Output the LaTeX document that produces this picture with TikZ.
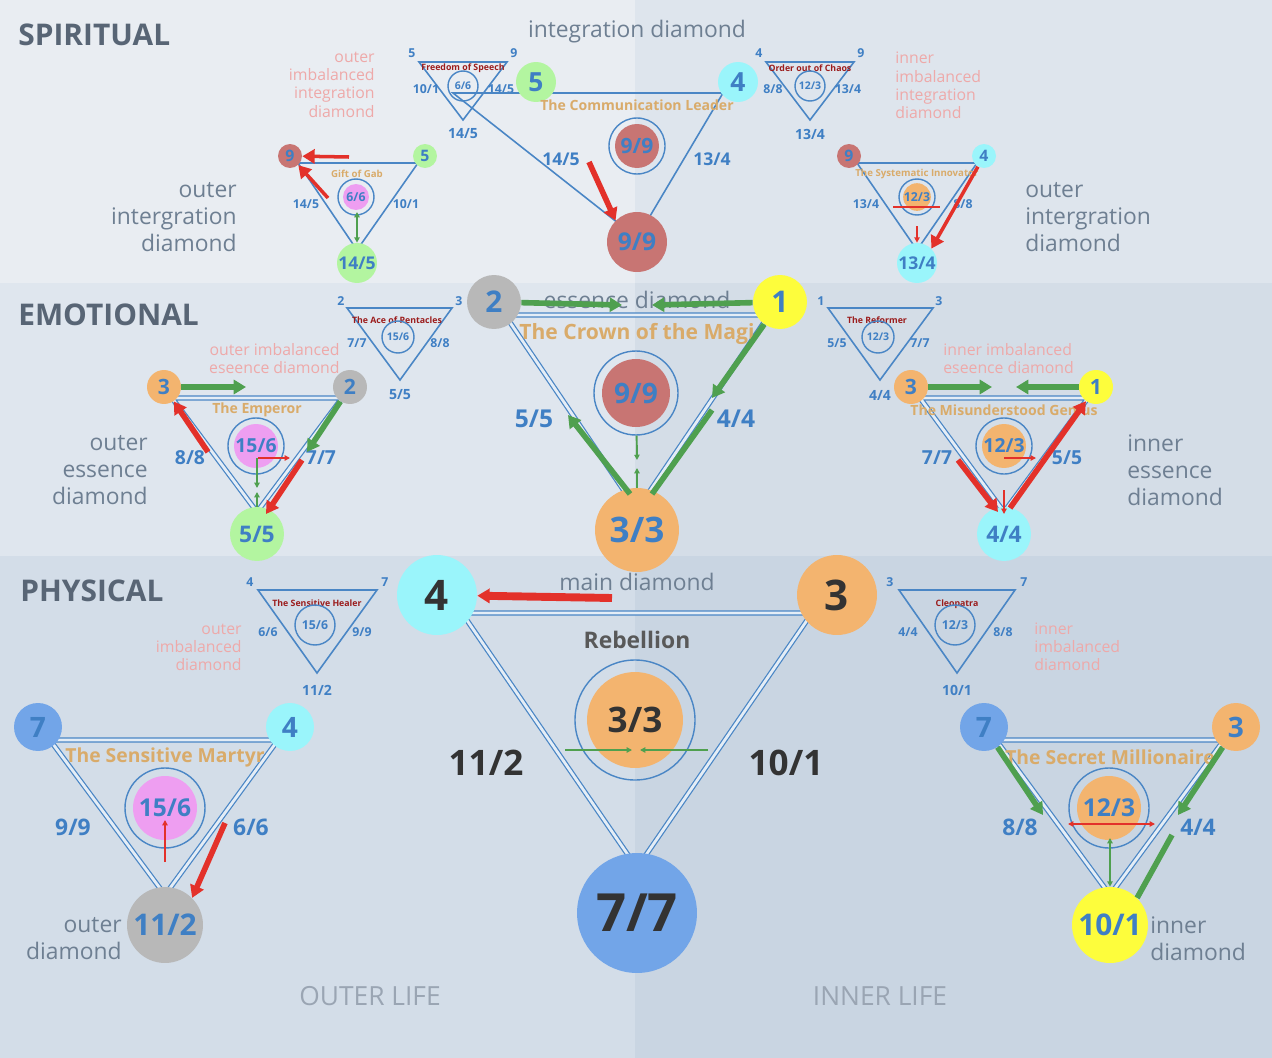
\documentclass[tikz,border=0pt]{standalone}
\usepackage{fontspec}
\setmainfont{Open Sans}
\usetikzlibrary{arrows.meta}
\definecolor{lineblue}{HTML}{4A86C5}
\definecolor{txtblue}{HTML}{3F7FC4}
\definecolor{cgreen}{HTML}{B3F5A0}
\definecolor{ccyan}{HTML}{9AF5FB}
\definecolor{corange}{HTML}{F3B46F}
\definecolor{cgray}{HTML}{B8B8B8}
\definecolor{cyellow}{HTML}{FDFD3C}
\definecolor{cred}{HTML}{C87573}
\definecolor{cpink}{HTML}{EE9EF1}
\definecolor{cblue}{HTML}{72A5E8}
\definecolor{gold}{HTML}{D9AB6A}
\definecolor{darkred}{HTML}{9B1C1C}
\definecolor{arrred}{HTML}{E3312A}
\definecolor{arrgreen}{HTML}{4FA04F}
\definecolor{pinktxt}{HTML}{EEA9A9}
\definecolor{graytxt}{HTML}{6E7F92}
\definecolor{bgsl}{HTML}{E9EDF2}
\definecolor{bgsr}{HTML}{DEE5ED}
\definecolor{bgel}{HTML}{DFE6EE}
\definecolor{bger}{HTML}{D4DDE7}
\definecolor{bgpl}{HTML}{D3DDE8}
\definecolor{bgpr}{HTML}{C9D5E2}
\newcommand{\fs}[1]{\fontsize{#1}{#1}\selectfont}
% small info triangle: centre x, name, top-left, top-right, centre, left, right, bottom
\newcommand{\infotri}[8]{%
  \draw[tri] (#1-44,62) -- (#1+44,62) -- (#1,120) -- cycle;
  \node[small] at (#1-51,53) {#3};
  \node[small] at (#1+51,53) {#4};
  \node[tiny, text=darkred] at (#1,68) {#2};
  \node[ring, minimum size=0.6cm, font=\fs{6}\bfseries] at (#1,86) {#5};
  \node[small] at (#1-37,89) {#6};
  \node[small] at (#1+38,89) {#7};
  \node[small, font=\fs{8}\bfseries] at (#1,134) {#8};}
\begin{document}
\begin{tikzpicture}[x=0.02cm, y=-0.02cm,
  tri/.style={draw=lineblue, line width=0.9pt},
  dtri/.style={draw=lineblue, line width=0.7pt, double=white!85!lineblue, double distance=1.6pt},
  dot/.style={circle, inner sep=0, minimum size=#1*0.04cm, text=txtblue, font=\bfseries},
  ring/.style={circle, draw=lineblue, line width=0.8pt, inner sep=0, text=txtblue},
  small/.style={text=txtblue, font=\fs{7}\bfseries, inner sep=0},
  tiny/.style={font=\fs{5}\bfseries, inner sep=0},
  side/.style={text=txtblue, font=\fs{11}\bfseries, inner sep=0},
  title/.style={text=gold, font=\fs{8}\bfseries, inner sep=0},
  pinkl/.style={text=pinktxt, font=\fontsize{9}{10.3}\selectfont, align=#1, inner sep=0},
  grayl/.style={text=graytxt, font=\fontsize{13}{15.4}\selectfont, align=#1, inner sep=0},
  band/.style={text=graytxt!80!black, font=\fs{17}\bfseries, anchor=west, inner sep=0},
  redarr/.style={draw=arrred, line width=3.2pt, -{Triangle[length=7pt,width=8pt]}},
  greenarr/.style={draw=arrgreen, line width=3.2pt, -{Triangle[length=7pt,width=8pt]}},
  thinr/.style={draw=arrred, line width=1.1pt, -{Triangle[length=3pt,width=3pt]}},
  thing/.style={draw=arrgreen, line width=1.1pt, -{Triangle[length=3pt,width=3pt]}}]
\useasboundingbox (0,0) rectangle (1272,1058);
% bands
\fill[bgsl] (0,0) rectangle (635,283);
\fill[bgsr] (635,0) rectangle (1272,283);
\fill[bgel] (0,283) rectangle (635,556);
\fill[bger] (635,283) rectangle (1272,556);
\fill[bgpl] (0,556) rectangle (635,1058);
\fill[bgpr] (635,556) rectangle (1272,1058);
\node[band] (spiritual) at (18,35) {SPIRITUAL};
\node[band] (emotional) at (18,315) {EMOTIONAL};
\node[band] (physical) at (20,591) {PHYSICAL};

% ---------- spiritual
\node[grayl=center] (intd) at (637,32) {integration diamond};
\infotri{463}{Freedom of Speech}{5}{9}{6/6}{10/1}{14/5}{14/5}
\infotri{810}{Order out of Chaos}{4}{9}{12/3}{8/8}{13/4}{13/4}
\node[pinkl=right, anchor=north east] at (375,52) {outer\\imbalanced\\integration\\diamond};
\node[pinkl=left, anchor=north west] at (895,52) {inner\\imbalanced\\integration\\diamond};
\draw[tri] (453,93) -- (723,93) -- (637,238) -- cycle;
\node[dot=20, fill=cgreen, font=\fs{15}\bfseries] (s5) at (536,82) {5};
\node[dot=20, fill=ccyan, font=\fs{15}\bfseries] (s4) at (738,82) {4};
\node[title] at (637,105) {The Communication Leader};
\node[ring, minimum size=56*0.02cm] (sring) at (637,146) {};
\node[dot=22, fill=cred, font=\fs{12}\bfseries] at (sring) {9/9};
\node[side, font=\fs{10}\bfseries] at (561,159) {14/5};
\node[side, font=\fs{10}\bfseries] at (712,159) {13/4};
\node[dot=30, fill=cred, font=\fs{14}\bfseries] (s99) at (637,242) {9/9};
\draw[redarr] (589,162) -- (s99.north west);
% left spiritual
\draw[tri] (298,163) -- (418,163) -- (357,250) -- cycle;
\node[dot=12, fill=cred, font=\fs{9}\bfseries] (l9) at (290,156) {9};
\node[dot=12, fill=cgreen, font=\fs{9}\bfseries] (l5) at (425,156) {5};
\node[dot=20, fill=cgreen, font=\fs{10}\bfseries] (l145) at (357,263) {14/5};
\node[title, font=\fs{5.5}\bfseries] at (357,174) {Gift of Gab};
\node[ring, minimum size=36*0.02cm] (lring) at (356,197) {};
\node[dot=13, fill=cpink, font=\fs{7}\bfseries] at (lring) {6/6};
\node[small] at (306,204) {14/5};
\node[small] at (406,204) {10/1};
\draw[redarr, line width=2pt] (349,157) -- (l9);
\draw[redarr, line width=2pt] (328,198) -- (l9);
\draw[thing, {Triangle[length=3pt,width=3pt]}-{Triangle[length=3pt,width=3pt]}] (357,212) -- (l145);
\node[grayl=right, anchor=east] at (237,217) {outer\\intergration\\diamond};
% right spiritual
\draw[tri] (857,163) -- (977,163) -- (917,250) -- cycle;
\node[dot=12, fill=cred, font=\fs{9}\bfseries] (r9) at (849,156) {9};
\node[dot=12, fill=ccyan, font=\fs{9}\bfseries] (r4) at (984,156) {4};
\node[dot=20, fill=ccyan, font=\fs{10}\bfseries] (r134) at (917,263) {13/4};
\node[title, font=\fs{5.5}\bfseries] at (917,174) {The Systematic Innovator};
\node[ring, minimum size=36*0.02cm] (rring) at (917,197) {};
\node[dot=13, fill=corange, font=\fs{7}\bfseries] at (rring) {12/3};
\node[small] at (866,204) {13/4};
\node[small] at (963,204) {8/8};
\draw[thinr, -] (893,207) -- (940,207);
\draw[redarr, line width=2pt] (r4) -- (r134.north east);
\draw[thinr] (917,226) -- (r134.north);
\node[grayl=left, anchor=west] at (1025,217) {outer\\intergration\\diamond};

% ---------- emotional
\node[grayl=center] at (637,300) {essence diamond};
\node[small] at (341,301) {2};
\node[small] at (459,301) {3};
\draw[tri] (347,308) -- (452,308) -- (400,380) -- cycle;
\node[tiny, text=darkred] at (397,320) {The Ace of Pentacles};
\node[ring, minimum size=32*0.02cm, font=\fs{6}\bfseries] at (398,337) {15/6};
\node[small] at (357,343) {7/7};
\node[small] at (440,343) {8/8};
\node[small, font=\fs{8}\bfseries] at (400,395) {5/5};
\node[small] at (821,301) {1};
\node[small] at (939,301) {3};
\draw[tri] (828,308) -- (933,308) -- (880,380) -- cycle;
\node[tiny, text=darkred] at (877,320) {The Reformer};
\node[ring, minimum size=32*0.02cm, font=\fs{6}\bfseries] at (878,337) {12/3};
\node[small] at (837,343) {5/5};
\node[small] at (920,343) {7/7};
\node[small, font=\fs{8}\bfseries] at (880,395) {4/4};
\node[pinkl=right, anchor=east] at (340,359) {outer imbalanced\\eseence diamond};
\node[pinkl=left, anchor=west] at (943,359) {inner imbalanced\\eseence diamond};
% main emotional
\draw[dtri] (505,315) -- (769,315) -- (637,510) -- cycle;
\node[dot=27, fill=cgray, font=\fs{17}\bfseries] (e2) at (494,302) {2};
\node[dot=27, fill=cyellow, font=\fs{17}\bfseries] (e1) at (780,302) {1};
\node[title, font=\fs{12}\bfseries] at (637,334) {The Crown of the Magi};
\node[ring, minimum size=84*0.02cm] (ering) at (636,393) {};
\node[dot=34, fill=cred, font=\fs{16}\bfseries] at (ering) {9/9};
\node[side, font=\fs{14}\bfseries] at (534,419) {5/5};
\node[side, font=\fs{14}\bfseries] at (736,419) {4/4};
\node[dot=42, fill=corange, font=\fs{20}\bfseries] (e33) at (637,530) {3/3};
\draw[greenarr] (e2) -- (622,305);
\draw[greenarr] (e1) -- (652,305);
\draw[greenarr] (e1) -- (712,398);
\draw[greenarr, -] (652,494) -- (712,410);
\draw[greenarr] (630,494) -- (568,415);
\draw[thing] (ering) -- (637,460);
\draw[thing] (e33.north) -- (637,468);
% left emotional
\draw[dtri] (172,398) -- (342,398) -- (257,512) -- cycle;
\node[dot=17, fill=corange, font=\fs{12}\bfseries] (le3) at (164,387) {3};
\node[dot=17, fill=cgray, font=\fs{12}\bfseries] (le2) at (350,387) {2};
\node[dot=27, fill=cgreen, font=\fs{13}\bfseries] (le55) at (257,534) {5/5};
\node[title] at (257,410) {The Emperor};
\node[ring, minimum size=56*0.02cm] (lering) at (256,446) {};
\node[dot=22, fill=cpink, font=\fs{11}\bfseries] at (lering) {15/6};
\node[side] at (190,458) {8/8};
\node[side] at (321,458) {7/7};
\draw[greenarr] (le3) -- (246,387);
\draw[greenarr] (le2) -- (307,452);
\draw[redarr] (208,452) -- (le3);
\draw[redarr] (302,460) -- (266,514);
\draw[thinr] (258,458) -- (290,458);
\draw[thing] (257,458) -- (257,488);
\draw[thing] (le55.north) -- (257,492);
\node[grayl=right, anchor=east] at (148,470) {outer\\essence\\diamond};
% right emotional
\draw[dtri] (920,398) -- (1088,398) -- (1004,512) -- cycle;
\node[dot=17, fill=corange, font=\fs{12}\bfseries] (re3) at (911,387) {3};
\node[dot=17, fill=cyellow, font=\fs{12}\bfseries] (re1) at (1096,387) {1};
\node[dot=27, fill=ccyan, font=\fs{13}\bfseries] (re44) at (1004,534) {4/4};
\node[title] at (1004,410) {The Misunderstood Genius};
\node[ring, minimum size=56*0.02cm] (rering) at (1004,446) {};
\node[dot=22, fill=corange, font=\fs{11}\bfseries] at (rering) {12/3};
\node[side] at (937,458) {7/7};
\node[side] at (1067,458) {5/5};
\draw[greenarr] (re3) -- (992,387);
\draw[greenarr] (re1) -- (1016,387);
\draw[redarr] (1010,508) -- (re1);
\draw[redarr] (958,460) -- (998,512);
\draw[thinr] (1004,458) -- (1036,458);
\draw[thinr] (1004,490) -- (1004,514);
\node[grayl=left, anchor=west] at (1127,470) {inner\\essence\\diamond};

% ---------- physical
\node[grayl=center] at (637,582) {main diamond};
\node[small] at (250,582) {4};
\node[small] at (385,582) {7};
\draw[tri] (258,590) -- (377,590) -- (317,673) -- cycle;
\node[tiny, text=darkred] at (317,603) {The Sensitive Healer};
\node[ring, minimum size=40*0.02cm, font=\fs{7}\bfseries] at (315,625) {15/6};
\node[small] at (268,632) {6/6};
\node[small] at (362,632) {9/9};
\node[small, font=\fs{8}\bfseries] at (317,690) {11/2};
\node[small] at (890,582) {3};
\node[small] at (1024,582) {7};
\draw[tri] (899,590) -- (1015,590) -- (957,673) -- cycle;
\node[tiny, text=darkred] at (957,604) {Cleopatra};
\node[ring, minimum size=40*0.02cm, font=\fs{7}\bfseries] at (955,625) {12/3};
\node[small] at (908,632) {4/4};
\node[small] at (1003,632) {8/8};
\node[small, font=\fs{8}\bfseries] at (957,690) {10/1};
\node[pinkl=right, anchor=east] at (242,647) {outer\\imbalanced\\diamond};
\node[pinkl=left, anchor=west] at (1034,647) {inner\\imbalanced\\diamond};
% main physical
\draw[dtri] (462,613) -- (812,613) -- (637,868) -- cycle;
\node[dot=40, fill=ccyan, text=black!80, font=\fs{24}\bfseries] (p4) at (437,595) {4};
\node[dot=40, fill=corange, text=black!80, font=\fs{24}\bfseries] (p3) at (837,595) {3};
\node[text=black!65, font=\fs{13}\bfseries] at (637,640) {Rebellion};
\node[ring, minimum size=120*0.02cm] (pring) at (635,720) {};
\node[dot=48, fill=corange, text=black!80, font=\fs{20}\bfseries] at (pring) {3/3};
\node[text=black!80, font=\fs{20}\bfseries] at (486,763) {11/2};
\node[text=black!80, font=\fs{20}\bfseries] at (786,763) {10/1};
\node[dot=60, fill=cblue, text=black!80, font=\fs{30}\bfseries] (p77) at (637,913) {7/7};
\draw[redarr, line width=4.5pt] (612,598) -- (p4);
\draw[thing] (565,750) -- (632,750);
\draw[thing] (708,750) -- (640,750);
% left physical
\draw[dtri] (50,740) -- (278,740) -- (165,895) -- cycle;
\node[dot=24, fill=cblue, font=\fs{16}\bfseries] (lp7) at (38,727) {7};
\node[dot=24, fill=ccyan, font=\fs{16}\bfseries] (lp4) at (290,727) {4};
\node[dot=38, fill=cgray, font=\fs{17}\bfseries] (lp112) at (165,925) {11/2};
\node[title, font=\fs{11}\bfseries] at (165,757) {The Sensitive Martyr};
\node[ring, minimum size=80*0.02cm] (lpring) at (165,808) {};
\node[dot=32, fill=cpink, font=\fs{14}\bfseries] at (lpring) {15/6};
\node[side, font=\fs{13}\bfseries] at (73,827) {9/9};
\node[side, font=\fs{13}\bfseries] at (251,827) {6/6};
\draw[redarr] (225,823) -- (lp112.north east);
\draw[thinr] (165,862) -- (165,820);
\node[grayl=right, anchor=east] at (122,939) {outer\\diamond};
% right physical
\draw[dtri] (996,740) -- (1224,740) -- (1110,895) -- cycle;
\node[dot=24, fill=cblue, font=\fs{16}\bfseries] (rp7) at (984,727) {7};
\node[dot=24, fill=corange, font=\fs{16}\bfseries] (rp3) at (1236,727) {3};
\node[dot=38, fill=cyellow, font=\fs{17}\bfseries] (rp101) at (1110,925) {10/1};
\node[title, font=\fs{11}\bfseries] at (1110,757) {The Secret Millionaire};
\node[ring, minimum size=80*0.02cm] (rpring) at (1109,808) {};
\node[dot=32, fill=corange, font=\fs{14}\bfseries] at (rpring) {12/3};
\node[side, font=\fs{13}\bfseries] at (1020,827) {8/8};
\node[side, font=\fs{13}\bfseries] at (1198,827) {4/4};
\draw[greenarr] (rp7) -- (1043,815);
\draw[greenarr] (rp3) -- (1178,815);
\draw[greenarr, -] (rp101.north east) -- (1172,835);
\draw[thinr, {Triangle[length=3pt,width=3pt]}-{Triangle[length=3pt,width=3pt]}] (1068,824) -- (1155,824);
\draw[thing, {Triangle[length=3pt,width=3pt]}-{Triangle[length=3pt,width=3pt]}] (1110,838) -- (rp101.north);
\node[grayl=left, anchor=west] at (1150,939) {inner\\diamond};
\node[text=graytxt!70, font=\fs{15}] at (370,996) {OUTER LIFE};
\node[text=graytxt!70, font=\fs{15}] at (880,996) {INNER LIFE};
\end{tikzpicture}
\end{document}
